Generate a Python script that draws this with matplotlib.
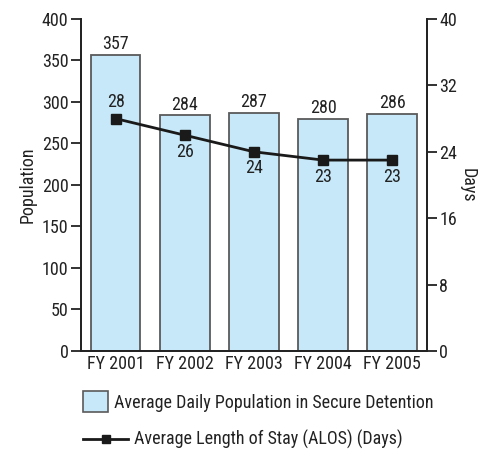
import matplotlib.pyplot as plt
from matplotlib.patches import Rectangle
from matplotlib.lines import Line2D

plt.rcParams['font.family'] = ['Roboto Condensed', 'DejaVu Sans']
plt.rcParams['font.size'] = 13

# fiscal years, detention population and average length of stay
years = ['FY 2001', 'FY 2002', 'FY 2003', 'FY 2004', 'FY 2005']
population = [357, 284, 287, 280, 286]
alos_days = [28, 26, 24, 23, 23]
alos_label_above = [True, False, False, False, False]

bar_color = '#c6e8f8'
edge_color = '#5a5a5a'
text_color = '#222222'
fs = 13

fig = plt.figure(figsize=(4.89, 4.5), dpi=100)
ax = fig.add_axes([0.1656, 0.22, 0.7074, 0.7378])
ax2 = ax.twinx()

x = list(range(len(years)))
bars = ax.bar(x, population, width=0.72, color=bar_color, edgecolor=edge_color, linewidth=1.3)
for xi, v in zip(x, population):
    ax.text(xi, v + 2, str(v), ha='center', va='bottom', color=text_color, fontsize=fs)

ax2.plot(x, alos_days, color='#1a1a1a', linewidth=2, marker='s', markersize=7)
for xi, v, above in zip(x, alos_days, alos_label_above):
    if above:
        ax2.text(xi, v + 0.9, str(v), ha='center', va='bottom', color=text_color, fontsize=fs)
    else:
        ax2.text(xi, v - 0.9, str(v), ha='center', va='top', color=text_color, fontsize=fs)

ax.set_xlim(-0.5, 4.5)
ax.set_ylim(0, 400)
ax.set_yticks(range(0, 401, 50))
ax2.set_ylim(0, 40)
ax2.set_yticks(range(0, 41, 8))
ax.set_xticks(x)
ax.set_xticklabels(years)

for a in (ax, ax2):
    a.spines['top'].set_visible(False)
    for s in ('left', 'right', 'bottom'):
        a.spines[s].set_linewidth(1.3)
        a.spines[s].set_color('#222222')
    a.tick_params(colors=text_color, labelsize=fs, width=1.3, length=7)
ax.tick_params(axis='x', length=0, pad=3)
ax.tick_params(axis='y', pad=2)
ax2.tick_params(axis='y', pad=2)

ax.set_ylabel('Population', fontsize=fs, color=text_color, labelpad=4)
ax2.set_ylabel('Days', fontsize=fs, color=text_color, rotation=270, labelpad=14)

# legend drawn below the axes
fig.add_artist(Rectangle((83 / 489, 1 - 412 / 450), 25 / 489, 21 / 450,
                         transform=fig.transFigure, facecolor=bar_color,
                         edgecolor=edge_color, linewidth=1.2))
fig.text(114 / 489, 1 - 403 / 450, 'Average Daily Population in Secure Detention',
         ha='left', va='center', fontsize=fs, color=text_color)
fig.add_artist(Line2D([83 / 489, 128 / 489], [1 - 439 / 450] * 2, transform=fig.transFigure,
                      color='#1a1a1a', linewidth=2))
fig.add_artist(Line2D([105.5 / 489], [1 - 439 / 450], transform=fig.transFigure,
                      color='#1a1a1a', marker='s', markersize=6, linestyle='none'))
fig.text(134 / 489, 1 - 439 / 450, 'Average Length of Stay (ALOS) (Days)',
         ha='left', va='center', fontsize=fs, color=text_color)

fig.savefig('out.png', dpi=100)
